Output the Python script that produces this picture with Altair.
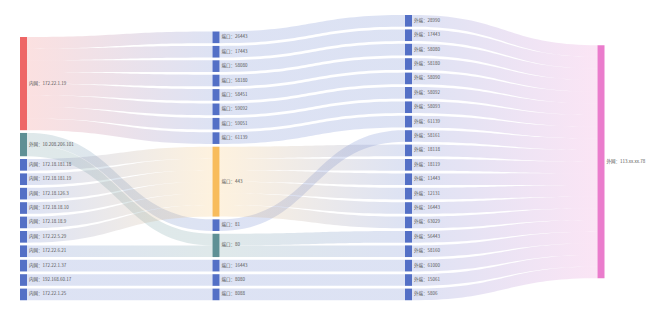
import altair as alt
import numpy as np
import pandas as pd

# ---------------- data ----------------
internal_ips = ["内网：172.22.1.19", "外网：10.208.206.101", "内网：172.18.181.18", "内网：172.18.181.19",
                "内网：172.18.126.3", "内网：172.18.18.10", "内网：172.18.18.9", "内网：172.22.5.29",
                "内网：172.22.6.21", "内网：172.22.1.37", "内网：192.168.60.17", "内网：172.22.1.25"]
ports = ["端口：26443", "端口：17443", "端口：58080", "端口：58180", "端口：58451", "端口：59092",
         "端口：59051", "端口：61139", "端口：443", "端口：81", "端口：80", "端口：16443",
         "端口：8080", "端口：8088"]
ext_ports = ["外端：28990", "外端：17443", "外端：58080", "外端：58180", "外端：58090", "外端：58092",
             "外端：58093", "外端：61139", "外端：58161", "外端：18118", "外端：18119", "外端：11443",
             "外端：12131", "外端：16443", "外端：63029", "外端：56443", "外端：58160", "外端：61000",
             "外端：15061", "外端：5806"]
ext_ips = ["外网：113.xx.xx.78"]

ip_port_src = [0, 0, 0, 0, 0, 0, 0, 0, 1, 1, 2, 3, 4, 5, 6, 7, 8, 9, 10, 11]
ip_port_dst = [0, 1, 2, 3, 4, 5, 6, 7, 9, 10, 8, 8, 8, 8, 8, 8, 10, 11, 12, 13]
ip_port_val = [1, 1, 1, 1, 1, 1, 1, 1, 1, 1, 1, 1, 1, 1, 1, 1, 1, 1, 1, 1]

port_ext_src = [0, 1, 2, 3, 4, 5, 6, 7, 9, 8, 8, 8, 8, 8, 8, 10, 10, 11, 12, 13]
port_ext_dst = [0, 1, 2, 3, 4, 5, 6, 7, 8, 9, 10, 11, 12, 13, 14, 15, 16, 17, 18, 19]
port_ext_val = [1, 1, 1, 1, 1, 1, 1, 1, 1, 1, 1, 1, 1, 1, 1, 1, 1, 1, 1, 1]

ext_ip_src = [0, 1, 2, 3, 4, 5, 6, 7, 8, 9, 10, 11, 12, 13, 14, 15, 16, 17, 18, 19]
ext_ip_dst = [0, 0, 0, 0, 0, 0, 0, 0, 0, 0, 0, 0, 0, 0, 0, 0, 0, 0, 0, 0]
ext_ip_val = [1, 1, 1, 1, 1, 1, 1, 1, 1, 1, 1, 1, 1, 1, 1, 1, 1, 1, 1, 1]

# ---------------- style / layout constants ----------------
W, H = 661, 324
PX_PER_UNIT = 11.65
GAP_PX = 2.75
NODE_W_PX = 7
COL_X0_PX = 20
COL_STEP_PX = 192.5
BOTTOMS_PX = [300.25, 300.25, 300.25, 278.2]
LABEL_DX_PX = 2
FONT = "Noto Sans CJK SC"

BLUE = "#5470c6"
special_colors = {(0, 0): "#ee6666", (0, 1): "#5f9095", (1, 8): "#f8bc5c",
                  (1, 10): "#5f9095", (3, 0): "#ea7ccc"}

def node_color(c, i):
    return special_colors.get((c, i), BLUE)

# ---------------- sankey layout (in data units) ----------------
columns = [internal_ips, ports, ext_ports, ext_ips]
stages = [(ip_port_src, ip_port_dst, ip_port_val),
          (port_ext_src, port_ext_dst, port_ext_val),
          (ext_ip_src, ext_ip_dst, ext_ip_val)]

links = []
for c, (ss, ds, vs) in enumerate(stages):
    for s, d, v in zip(ss, ds, vs):
        links.append(dict(sc=c, si=s, tc=c + 1, ti=d, v=v))

gap_u = GAP_PX / PX_PER_UNIT
node_w_u = NODE_W_PX / COL_STEP_PX

node_val = {}
for c, col in enumerate(columns):
    for i in range(len(col)):
        vin = sum(l["v"] for l in links if l["tc"] == c and l["ti"] == i)
        vout = sum(l["v"] for l in links if l["sc"] == c and l["si"] == i)
        node_val[(c, i)] = max(vin, vout)

node_y = {}
for c, col in enumerate(columns):
    total = sum(node_val[(c, i)] for i in range(len(col))) + (len(col) - 1) * gap_u
    y = BOTTOMS_PX[c] / PX_PER_UNIT - total
    for i in range(len(col)):
        node_y[(c, i)] = y
        y += node_val[(c, i)] + gap_u

# link offsets
out_off = {k: 0.0 for k in node_val}
in_off = {k: 0.0 for k in node_val}
for l in sorted(links, key=lambda l: (l["sc"], l["si"], node_y[(l["tc"], l["ti"])])):
    k = (l["sc"], l["si"])
    l["sy"] = node_y[k] + out_off[k]
    out_off[k] += l["v"]
for l in sorted(links, key=lambda l: (l["tc"], l["ti"], node_y[(l["sc"], l["si"])])):
    k = (l["tc"], l["ti"])
    l["ty"] = node_y[k] + in_off[k]
    in_off[k] += l["v"]

# ---------------- tables ----------------
node_rows = []
for c, col in enumerate(columns):
    for i, name in enumerate(col):
        node_rows.append(dict(name=name, x=c, x2=c + node_w_u, y=node_y[(c, i)],
                              y2=node_y[(c, i)] + node_val[(c, i)],
                              ym=node_y[(c, i)] + node_val[(c, i)] / 2,
                              xl=c + node_w_u + LABEL_DX_PX / COL_STEP_PX,
                              color=node_color(c, i)))
nodes_df = pd.DataFrame(node_rows)

ts = np.linspace(0, 1, 41)
link_rows = []
for li, l in enumerate(links):
    x0 = l["sc"] + node_w_u
    x1 = l["tc"]
    xm = (x0 + x1) / 2
    for t in ts:
        xt = (1 - t) ** 3 * x0 + 3 * (1 - t) ** 2 * t * xm + 3 * (1 - t) * t ** 2 * xm + t ** 3 * x1
        s = 3 * t ** 2 - 2 * t ** 3
        yt = l["sy"] + (l["ty"] - l["sy"]) * s
        link_rows.append(dict(link=li, x=xt, y=yt, y2=yt + l["v"],
                              c1=node_color(l["sc"], l["si"]), c2=node_color(l["tc"], l["ti"])))
links_df = pd.DataFrame(link_rows)
links_df["combo"] = links_df["c1"] + "|" + links_df["c2"]

xs = alt.Scale(domain=[-COL_X0_PX / COL_STEP_PX, (W - COL_X0_PX) / COL_STEP_PX], nice=False, zero=False)
ys = alt.Scale(domain=[0, H / PX_PER_UNIT], nice=False, zero=False, reverse=True)

layers = []
for combo in links_df["combo"].unique():
    c1, c2 = combo.split("|")
    grad = alt.Gradient(gradient="linear",
                        stops=[alt.GradientStop(offset=0, color=c1), alt.GradientStop(offset=1, color=c2)],
                        x1=0, x2=1, y1=0, y2=0)
    sub = links_df[links_df["combo"] == combo]
    layers.append(
        alt.Chart(sub).mark_area(fill=grad, opacity=0.2, interpolate="linear").encode(
            x=alt.X("x:Q", scale=xs, axis=None),
            y=alt.Y("y:Q", scale=ys, axis=None),
            y2="y2:Q",
            detail="link:N",
        )
    )

node_layer = alt.Chart(nodes_df).mark_rect().encode(
    x=alt.X("x:Q", scale=xs, axis=None), x2="x2:Q",
    y=alt.Y("y:Q", scale=ys, axis=None), y2="y2:Q",
    color=alt.Color("color:N", scale=None),
)
label_layer = alt.Chart(nodes_df).mark_text(align="left", baseline="middle", fontSize=4.5,
                                            font=FONT, color="#555555").encode(
    x=alt.X("xl:Q", scale=xs, axis=None),
    y=alt.Y("ym:Q", scale=ys, axis=None),
    text="name:N",
)

chart = alt.layer(*layers, node_layer, label_layer).properties(
    width=W, height=H, autosize=alt.AutoSizeParams(type="none"), padding=0,
    background="white",
).configure_view(stroke=None)

chart.save("out.html", embed_options={"renderer": "svg", "actions": False})
